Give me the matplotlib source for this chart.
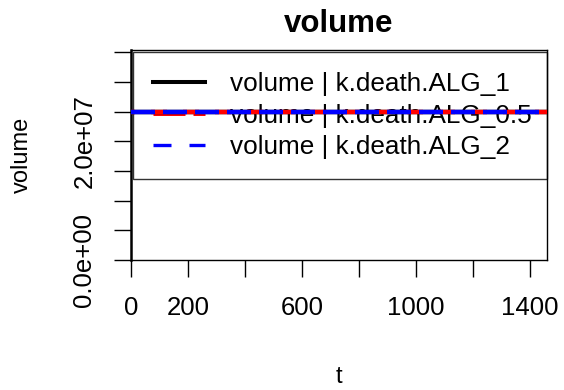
import matplotlib
matplotlib.use("Agg")
import matplotlib.pyplot as plt
from matplotlib.lines import Line2D
from matplotlib.ticker import FixedLocator, FixedFormatter

plt.rcParams['font.family'] = ['Liberation Sans', 'DejaVu Sans']

# data (all three runs sit at the same level)
t = [0, 1460]
vol_alg_1 = [2.5e7, 2.5e7]
vol_alg_05 = [2.5e7, 2.5e7]
vol_alg_2 = [2.5e7, 2.5e7]
series_labels = ['volume | k.death.ALG_1', 'volume | k.death.ALG_0.5', 'volume | k.death.ALG_2']

x_ticks = [0, 200, 400, 600, 800, 1000, 1200, 1400]
x_tick_labels = ['0', '200', '', '600', '', '1000', '', '1400']
y_ticks = [0, 5e6, 1e7, 1.5e7, 2e7, 2.5e7, 3e7, 3.5e7]
y_tick_labels = ['0.0e+00', '', '', '', '2.0e+07', '', '', '']

fig = plt.figure(figsize=(5.64, 3.90), dpi=100)
ax = fig.add_axes([131/564, 130/390, 416/564, 210/390])

# data lines: black underneath, red fills the gaps of the blue dashes
ax.plot(t, vol_alg_1, color='black', lw=3.2, zorder=3)
ax.plot(t, vol_alg_05, color='red', lw=3.2, linestyle=(2.7, (3.6, 3.6)), zorder=3)
ax.plot(t, vol_alg_2, color='blue', lw=3.2, linestyle=(0, (5.4, 1.8)), zorder=3)

ax.set_xlim(0, 1460)
ax.set_ylim(0, 3.54e7)

ax.xaxis.set_major_locator(FixedLocator(x_ticks))
ax.xaxis.set_major_formatter(FixedFormatter(x_tick_labels))
ax.yaxis.set_major_locator(FixedLocator(y_ticks))
ax.yaxis.set_major_formatter(FixedFormatter(y_tick_labels))
ax.tick_params(axis='x', length=12, width=1, labelsize=18.5, pad=14)
ax.tick_params(axis='y', length=12, width=1, labelsize=18.5, pad=13)
for lab in ax.get_yticklabels():
    lab.set_rotation(90)
    lab.set_va('center')

for sp in ax.spines.values():
    sp.set_linewidth(1.0)
ax.spines['left'].set_linewidth(1.8)

ax.set_title('volume', fontsize=22.5, fontweight='bold', pad=13)
ax.set_xlabel('t', fontsize=17)
ax.xaxis.label.set_va('baseline')
ax.xaxis.set_label_coords(0.5, (260 - 383) / 210)
ax.set_ylabel('volume', fontsize=17)
ax.yaxis.label.set_va('baseline')
ax.yaxis.set_label_coords((28 - 131) / 416, 0.5)

# legend keys drawn as in the original (thicker red key)
handles = [
    Line2D([], [], color='black', lw=2.9),
    Line2D([], [], color='red', lw=3.6, linestyle=(0, (6.4, 1.6))),
    Line2D([], [], color='blue', lw=2.4, linestyle=(0, (5.4, 5.4))),
]
leg = ax.legend(handles, series_labels, loc='upper left',
                bbox_to_anchor=(0.005, 0.99, 0.995, 0), mode='expand',
                borderaxespad=0, fontsize=18.8, frameon=True, fancybox=False,
                borderpad=0.75, labelspacing=0.3, handlelength=2.0,
                handletextpad=0.95)
leg.get_frame().set_edgecolor('black')
leg.get_frame().set_facecolor('none')
leg.get_frame().set_linewidth(1.0)
leg.set_zorder(1)

fig.savefig('out.png', dpi=100)
